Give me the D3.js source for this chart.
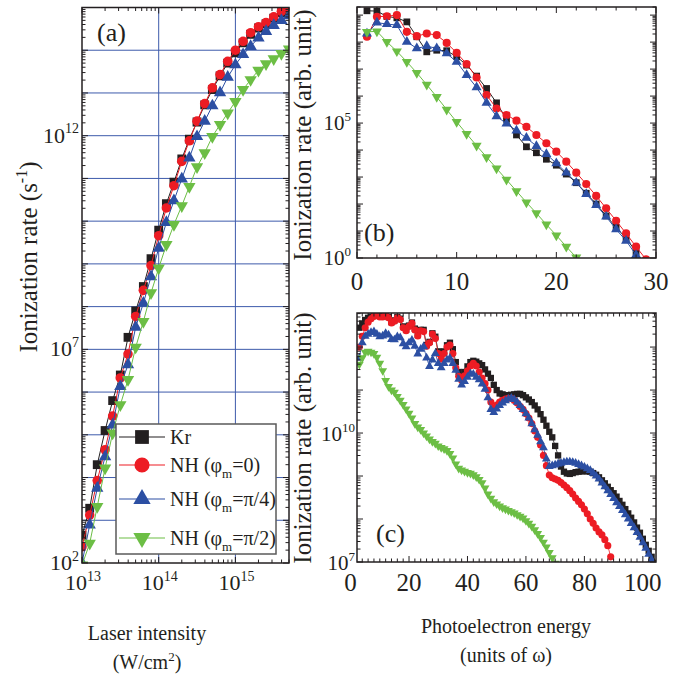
<!DOCTYPE html>
<html>
<head>
<meta charset="utf-8">
<script src="https://cdn.jsdelivr.net/npm/d3@7"></script>
<style>
  html, body { margin: 0; padding: 0; background: #fff; }
  svg { display: block; }
  svg text { font-family: "Liberation Serif", "Times New Roman", serif; }
</style>
</head>
<body>
<svg id="fig" width="682" height="681" font-family="Liberation Serif, Times New Roman, serif"></svg>
<script>
// ---------- (a) ionization rate vs laser intensity ----------
const intensity = [1e13, 1.26e13, 1.58e13, 2e13, 2.51e13, 3.16e13, 3.98e13, 5.01e13, 6.31e13, 7.94e13,
  1e14, 1.26e14, 1.58e14, 2e14, 2.51e14, 3.16e14, 3.98e14, 5.01e14, 6.31e14, 7.94e14,
  1e15, 1.26e15, 1.58e15, 2e15, 2.51e15, 3.16e15, 3.98e15, 5.01e15];
const rateKr = [4.47e2, 1.91e3, 2.0e4, 1.26e5, 6.31e5, 2.51e6, 1.91e7, 7.94e7, 2.95e8, 1.32e9,
  6.17e9, 2.57e10, 8.13e10, 2.88e11, 8.32e11, 2.09e12, 5.25e12, 1.2e13, 2.51e13, 5.01e13,
  8.7e13, 1.48e14, 2.34e14, 3.31e14, 4.17e14, 5.62e14, 7.59e14, 9.55e14];
const rateNH0 = [2.4e2, 1.32e3, 8.51e3, 4.47e4, 2.75e5, 2.14e6, 7.76e6, 5.89e7, 2.4e8, 9.12e8,
  4.57e9, 2.04e10, 6.76e10, 2.51e11, 7.59e11, 2.19e12, 5.62e12, 1.32e13, 2.69e13, 5.5e13,
  1.0e14, 1.62e14, 2.57e14, 3.55e14, 4.47e14, 6.03e14, 8.13e14, 1.0e15];
const rateNHq = [1.0e2, 7.76e2, 5.62e3, 3.09e4, 1.7e5, 1.35e6, 4.37e6, 3.31e7, 1.2e8, 5.01e8,
  2.34e9, 9.33e9, 3.02e10, 9.77e10, 3.02e11, 9.55e11, 2.19e12, 5.01e12, 1.02e13, 2.34e13,
  4.57e13, 7.94e13, 1.23e14, 1.95e14, 2.75e14, 3.8e14, 5.01e14, 6.46e14];
const rateNHh = [8.9e1, 2.88e2, 2.09e3, 1.66e4, 1.1e5, 5.01e5, 1.95e6, 1.12e7, 4.47e7, 2.09e8,
  7.94e8, 2.82e9, 8.32e9, 2.29e10, 6.46e10, 1.86e11, 3.98e11, 9.55e11, 1.82e12, 3.39e12,
  6.31e12, 1.2e13, 2.04e13, 3.39e13, 4.79e13, 6.31e13, 8.32e13, 1.07e14];

// ---------- (b) photoelectron spectrum, lower intensity ----------
const energyB = [1, 2, 3, 4, 5, 6, 7, 8, 9, 10, 11, 12, 13, 14, 15, 16, 17, 18, 19, 20,
  21, 22, 23, 24, 25, 26, 27, 28, 29];
const specKrB = [1.45e9, 1.41e9, 8.91e8, 7.94e8, 5.62e8, 1.58e8, 4.37e7, 5.01e7, 4.79e7, 2.88e7,
  1.41e7, 5.5e6, 1.91e6, 5.62e5, 1.38e5, 3.63e4, 1.32e4, 7.94e3, 4.57e3, 2.75e3,
  1.29e3, 6.17e2, 2.51e2, 1.0e2, 3.63e1, 1.38e1, 5.37, 1.7];
const specNH0B = [1.58e8, 8.71e8, 9.12e8, 1.0e9, 2.4e8, 1.66e8, 2.09e8, 1.82e8, 9.33e7, 3.98e7,
  1.55e7, 4.9e6, 1.1e6, 3.47e5, 2.0e5, 1.23e5, 7.24e4, 3.63e4, 1.78e4, 8.71e3,
  3.72e3, 1.45e3, 5.5e2, 2.0e2, 6.92e1, 2.4e1, 8.13, 2.63, 0.89];
const specNHqB = [2.09e8, 5.25e8, 4.68e8, 4.27e8, 1.02e8, 5.89e7, 7.08e7, 5.89e7, 3.8e7, 1.86e7,
  6.03e6, 2.09e6, 5.62e5, 1.78e5, 9.55e4, 5.25e4, 2.82e4, 1.41e4, 7.08e3, 3.24e3,
  1.45e3, 6.17e2, 2.34e2, 9.12e1, 3.39e1, 1.15e1, 4.37, 1.29];
const specNHhB = [2.4e8, 2.51e8, 1.02e8, 4.57e7, 1.86e7, 7.24e6, 2.63e6, 9.33e5, 3.16e5, 1.1e5,
  3.98e4, 1.45e4, 5.5e3, 2.09e3, 7.94e2, 3.02e2, 1.15e2, 4.57e1, 1.74e1, 6.92,
  2.63, 1.05];

// ---------- (c) photoelectron spectrum, higher intensity ----------
const energyC = [3, 4, 5, 6, 7, 8, 9, 10, 11, 12, 13, 14, 15, 16, 17, 18, 19, 20, 21, 22,
  23, 24, 25, 26, 27, 28, 29, 30, 31, 32, 33, 34, 35, 36, 37, 38, 39, 40, 41, 42,
  43, 44, 45, 46, 47, 48, 49, 50, 51, 52, 53, 54, 55, 56, 57, 58, 59, 60, 61, 62,
  63, 64, 65, 66, 67, 68, 69, 70, 71, 72, 73, 74, 75, 76, 77, 78, 79, 80, 81, 82,
  83, 84, 85, 86, 87, 88, 89, 90, 91, 92, 93, 94, 95, 96, 97, 98, 99, 100, 101, 102,
  103, 104];
const specKrC = [2.82e12, 3.55e12, 4.27e12, 4.79e12, 5.13e12, 5.5e12, 5.89e12, 5.37e12, 5.37e12, 6.03e12,
  5.01e12, 3.8e12, 4.17e12, 5.01e12, 4.57e12, 3.02e12, 2.51e12, 3.16e12, 3.72e12, 2.69e12,
  1.91e12, 2.51e12, 2.51e12, 1.12e12, 1.32e12, 2.09e12, 1.74e12, 7.94e11, 6.03e11, 7.94e11,
  1.1e12, 1.26e12, 8.91e11, 4.47e11, 2.63e11, 2.0e11, 2.63e11, 3.55e11, 4.47e11, 4.79e11,
  4.57e11, 4.17e11, 3.8e11, 3.02e11, 2.4e11, 1.91e11, 1.32e11, 1.0e11, 8.32e10, 7.94e10,
  7.59e10, 7.59e10, 7.76e10, 7.94e10, 8.13e10, 8.13e10, 7.59e10, 6.76e10, 6.03e10, 5.25e10,
  4.37e10, 3.55e10, 2.75e10, 2.04e10, 1.48e10, 1.07e10, 7.94e9, 5.01e9, 3.02e9, 1.66e9,
  1.26e9, 1.15e9, 1.12e9, 1.17e9, 1.23e9, 1.26e9, 1.29e9, 1.29e9, 1.29e9, 1.26e9,
  1.17e9, 1.07e9, 9.33e8, 7.94e8, 6.76e8, 5.62e8, 4.68e8, 3.98e8, 3.31e8, 2.63e8,
  2.14e8, 1.7e8, 1.35e8, 1.07e8, 8.32e7, 6.31e7, 4.79e7, 3.47e7, 2.51e7, 1.82e7,
  1.32e7, 9.55e6];
const specNH0C = [1.0e12, 1.78e12, 2.82e12, 3.8e12, 4.57e12, 5.13e12, 5.5e12, 5.01e12, 5.01e12, 5.89e12,
  4.79e12, 3.63e12, 3.98e12, 4.79e12, 4.37e12, 2.82e12, 2.4e12, 3.02e12, 3.55e12, 2.51e12,
  1.82e12, 2.4e12, 2.29e12, 1.05e12, 1.26e12, 2.0e12, 1.58e12, 7.08e11, 5.25e11, 7.08e11,
  1.0e12, 1.12e12, 7.08e11, 3.31e11, 2.09e11, 1.7e11, 2.14e11, 2.82e11, 3.63e11, 4.17e11,
  3.63e11, 2.63e11, 1.91e11, 1.41e11, 1.0e11, 5.25e10, 3.8e10, 4.47e10, 5.25e10, 5.75e10,
  6.17e10, 6.46e10, 6.46e10, 5.75e10, 5.01e10, 4.17e10, 3.55e10, 2.82e10, 2.24e10, 1.66e10,
  1.12e10, 7.94e9, 5.25e9, 3.02e9, 1.74e9, 1.05e9, 9.12e8, 8.51e8, 7.94e8, 7.08e8,
  6.17e8, 5.37e8, 4.57e8, 3.8e8, 3.09e8, 2.57e8, 2.14e8, 1.7e8, 1.32e8, 1.0e8,
  7.94e7, 6.17e7, 5.01e7, 4.27e7, 3.31e7, 2.4e7, 1.32e7];
const specNHqC = [5.62e11, 1.26e12, 1.78e12, 2.0e12, 2.19e12, 2.29e12, 2.0e12, 1.74e12, 1.82e12, 2.09e12,
  1.91e12, 1.51e12, 1.48e12, 1.74e12, 1.66e12, 1.2e12, 1.02e12, 1.26e12, 1.45e12, 1.05e12,
  6.92e11, 8.91e11, 1.02e12, 5.62e11, 3.55e11, 5.01e11, 7.08e11, 4.17e11, 3.31e11, 4.17e11,
  5.01e11, 5.5e11, 4.17e11, 2.88e11, 1.78e11, 1.32e11, 1.58e11, 2.0e11, 2.4e11, 2.34e11,
  2.0e11, 1.74e11, 1.38e11, 1.05e11, 6.61e10, 3.55e10, 3.02e10, 3.63e10, 4.37e10, 5.01e10,
  5.62e10, 6.17e10, 6.46e10, 6.03e10, 5.25e10, 4.37e10, 3.55e10, 2.82e10, 2.24e10, 1.66e10,
  1.2e10, 8.91e9, 6.31e9, 4.57e9, 2.51e9, 1.66e9, 1.74e9, 1.82e9, 1.91e9, 2.0e9,
  2.09e9, 2.14e9, 2.14e9, 2.09e9, 2.0e9, 1.86e9, 1.74e9, 1.62e9, 1.48e9, 1.35e9,
  1.17e9, 1.0e9, 8.51e8, 6.92e8, 5.62e8, 4.57e8, 3.72e8, 3.02e8, 2.4e8, 1.95e8,
  1.58e8, 1.26e8, 1.0e8, 7.94e7, 6.31e7, 4.9e7, 3.8e7, 2.82e7, 2.09e7, 1.51e7,
  1.12e7];
const specNHhC = [3.98e11, 5.62e11, 7.59e11, 7.94e11, 7.59e11, 7.08e11, 5.75e11, 4.17e11, 2.82e11, 1.66e11,
  1.2e11, 1.0e11, 8.91e10, 7.08e10, 5.75e10, 4.57e10, 3.63e10, 2.88e10, 2.24e10, 1.66e10,
  1.38e10, 1.2e10, 1.0e10, 8.51e9, 7.24e9, 6.31e9, 5.75e9, 5.01e9, 4.57e9, 4.27e9,
  3.89e9, 3.31e9, 2.63e9, 1.91e9, 1.51e9, 1.38e9, 1.29e9, 1.2e9, 1.15e9, 1.07e9,
  9.55e8, 8.32e8, 6.92e8, 5.25e8, 3.8e8, 3.02e8, 2.51e8, 2.24e8, 2.0e8, 1.82e8,
  1.7e8, 1.58e8, 1.48e8, 1.38e8, 1.26e8, 1.15e8, 1.05e8, 9.12e7, 7.94e7, 6.76e7,
  5.62e7, 4.57e7, 3.72e7, 2.88e7, 2.24e7, 1.66e7, 1.26e7, 9.33e6];

// tick values and legend texts
const ticksA_x = [1e13, 1e14, 1e15];
const ticksA_y = [1e2, 1e7, 1e12];
const ticksB_x = [0, 10, 20, 30];
const ticksB_y = [1, 1e5];
const ticksC_x = [0, 20, 40, 60, 80, 100];
const ticksC_y = [1e7, 1e10];
const legendLabels = [
  { main: "Kr" },
  { main: "NH (φ", sub: "m", tail: "=0)" },
  { main: "NH (φ", sub: "m", tail: "=π/4)" },
  { main: "NH (φ", sub: "m", tail: "=π/2)" }
];

const colors = ["#231f20", "#ed1c24", "#2c4fa3", "#6cbe45"];
const shapes = ["square", "circle", "up", "down"];
const FONT = "Liberation Serif, Times New Roman, serif";

const svg = d3.select("#fig");
const defs = svg.append("defs");

function txt(g, x, y, fs) {
  return g.append("text").attr("x", x).attr("y", y).attr("font-size", fs)
    .attr("font-family", FONT).attr("fill", "#231f20");
}

function symbolPath(shape, size) {
  const type = shape === "square" ? d3.symbolSquare
    : shape === "circle" ? d3.symbolCircle : d3.symbolTriangle;
  return d3.symbol().type(type).size(size)();
}

function expLabel(g, x, y, exp, anchor, fs, sfs) {
  const t = txt(g, x, y, fs).attr("text-anchor", anchor);
  t.append("tspan").text("10");
  t.append("tspan").attr("font-size", sfs).attr("dy", -fs * 0.42).text(exp);
  return t;
}

function logMinor(lo, hi) {
  const out = [];
  const e0 = Math.floor(Math.log10(lo)), e1 = Math.ceil(Math.log10(hi));
  for (let e = e0; e <= e1; e++) {
    for (let m = 1; m <= 9; m++) {
      const v = m * Math.pow(10, e);
      if (v >= lo * 0.9999 && v <= hi * 1.0001) out.push({ v, major: m === 1 });
    }
  }
  return out;
}

function frameTicks(g, x, y, xt, yt) {
  const [x0, x1] = x.range();
  const [y0, y1] = y.range(); // y0 bottom, y1 top
  const tk = g.append("g").attr("stroke", "#231f20").attr("stroke-width", 1);
  xt.forEach(t => {
    const px = x(t.v), L = t.major ? 6 : 3.5;
    tk.append("line").attr("x1", px).attr("x2", px).attr("y1", y0).attr("y2", y0 - L);
    tk.append("line").attr("x1", px).attr("x2", px).attr("y1", y1).attr("y2", y1 + L);
  });
  yt.forEach(t => {
    const py = y(t.v), L = t.major ? 6 : 3.5;
    tk.append("line").attr("y1", py).attr("y2", py).attr("x1", x0).attr("x2", x0 + L);
    tk.append("line").attr("y1", py).attr("y2", py).attr("x1", x1).attr("x2", x1 - L);
  });
  g.append("rect").attr("x", x0).attr("y", y1).attr("width", x1 - x0).attr("height", y0 - y1)
    .attr("fill", "none").attr("stroke", "#231f20").attr("stroke-width", 1.5);
}

function drawSeries(g, clipId, x, y, xs, ys, i, msize, lw) {
  const pts = ys.map((v, k) => [xs[k], v]);
  const s = g.append("g").attr("clip-path", `url(#${clipId})`);
  s.append("path").datum(pts)
    .attr("d", d3.line().x(d => x(d[0])).y(d => y(d[1])))
    .attr("fill", "none").attr("stroke", colors[i]).attr("stroke-width", lw);
  const p = symbolPath(shapes[i], msize[i]);
  s.selectAll("path.m").data(pts).join("path").attr("class", "m")
    .attr("d", p).attr("fill", colors[i])
    .attr("transform", d => `translate(${x(d[0])},${y(d[1])})` + (shapes[i] === "down" ? " rotate(180)" : ""));
}

function addClip(id, x, y) {
  const [x0, x1] = x.range(), [y0, y1] = y.range();
  defs.append("clipPath").attr("id", id).append("rect")
    .attr("x", x0).attr("y", y1).attr("width", x1 - x0).attr("height", y0 - y1);
}

// ================= panel (a) =================
const xA = d3.scaleLog().domain([1e13, 5e15]).range([82, 289]);
const yA = d3.scaleLog().domain([1e2, 1e15]).range([563, 7.5]);
const gA = svg.append("g");
addClip("clipA", xA, yA);

// decade grid
const gridA = gA.append("g").attr("stroke", "#3d5aab").attr("stroke-width", 1);
logMinor(1e13, 5e15).filter(t => t.major && t.v > 1e13).forEach(t => {
  gridA.append("line").attr("x1", xA(t.v)).attr("x2", xA(t.v)).attr("y1", yA.range()[0]).attr("y2", yA.range()[1]);
});
logMinor(1e2, 1e15).filter(t => t.major && t.v > 1e2 && t.v < 1e15).forEach(t => {
  gridA.append("line").attr("y1", yA(t.v)).attr("y2", yA(t.v)).attr("x1", xA.range()[0]).attr("x2", xA.range()[1]);
});

const sizeA = [78, 72, 66, 66];
[rateKr, rateNH0, rateNHq, rateNHh].forEach((ys, i) => drawSeries(gA, "clipA", xA, yA, intensity, ys, i, sizeA, 1));
frameTicks(gA, xA, yA, logMinor(1e13, 5e15), logMinor(1e2, 1e15));

ticksA_y.forEach(v => expLabel(gA, 79, yA(v) + 7, String(Math.round(Math.log10(v))), "end", 22, 14));
ticksA_x.forEach(v => expLabel(gA, xA(v) + 1, 590, String(Math.round(Math.log10(v))), "middle", 22, 14));

txt(gA, 97, 41, 26).text("(a)");

// legend
const lg = gA.append("g");
lg.append("rect").attr("x", 116).attr("y", 424).attr("width", 160).attr("height", 130)
  .attr("fill", "#fff").attr("stroke", "#5a5a5a").attr("stroke-width", 1.5);
const rowY = [437, 465, 499, 538];
const legSize = [190, 180, 130, 130];
legendLabels.forEach((lab, i) => {
  const cy = rowY[i];
  lg.append("line").attr("x1", 119).attr("x2", 165).attr("y1", cy).attr("y2", cy)
    .attr("stroke", colors[i]).attr("stroke-width", 1.2);
  lg.append("path").attr("d", symbolPath(shapes[i], legSize[i])).attr("fill", colors[i])
    .attr("transform", `translate(142,${cy})` + (shapes[i] === "down" ? " rotate(180)" : ""));
  const t = txt(lg, 170, cy + 7, 20);
  t.append("tspan").text(lab.main);
  if (lab.sub) {
    t.append("tspan").attr("font-size", 13).attr("dy", 6).text(lab.sub);
    t.append("tspan").attr("dy", -6).text(lab.tail);
  }
});

// axis titles (a)
const tA = txt(gA, 0, 0, 25).attr("transform", "translate(37,257) rotate(-90)").attr("text-anchor", "middle");
tA.append("tspan").text("Ionization rate (s");
tA.append("tspan").attr("font-size", 16).attr("dy", -10).text("-1");
tA.append("tspan").attr("dy", 10).text(")");

txt(gA, 147, 640, 20).attr("text-anchor", "middle").text("Laser intensity");
const tW = txt(gA, 147, 669, 20).attr("text-anchor", "middle");
tW.append("tspan").text("(W/cm");
tW.append("tspan").attr("font-size", 13).attr("dy", -8).text("2");
tW.append("tspan").attr("dy", 8).text(")");

// ================= panel (b) =================
const xB = d3.scaleLinear().domain([0, 30]).range([357, 656]);
const yB = d3.scaleLog().domain([1, 2e9]).range([258, 7]);
const gB = svg.append("g");
addClip("clipB", xB, yB);
const sizeB = [46, 52, 44, 44];
[specKrB, specNH0B, specNHqB, specNHhB].forEach((ys, i) =>
  drawSeries(gB, "clipB", xB, yB, energyB.slice(0, ys.length), ys, i, sizeB, 1));
const xtB = d3.range(0, 31, 2).map(v => ({ v, major: v % 10 === 0 }));
frameTicks(gB, xB, yB, xtB, logMinor(1, 2e9));
ticksB_x.forEach(v => txt(gB, xB(v), 290, 25).attr("text-anchor", "middle").text(v));
ticksB_y.forEach(v => expLabel(gB, 351, yB(v) + 7, String(Math.round(Math.log10(v))), "end", 21, 13));
txt(gB, 364, 241, 26).text("(b)");
txt(gB, 0, 0, 25).attr("transform", "translate(311,135) rotate(-90)").attr("text-anchor", "middle")
  .text("Ionization rate (arb. unit)");

// ================= panel (c) =================
const xC = d3.scaleLinear().domain([2.2, 104.5]).range([357, 656]);
const yC = d3.scaleLog().domain([1e7, 6.2e12]).range([562, 313]);
const gC = svg.append("g");
addClip("clipC", xC, yC);
const sizeC = [40, 40, 34, 34];
[specKrC, specNH0C, specNHqC, specNHhC].forEach((ys, i) =>
  drawSeries(gC, "clipC", xC, yC, energyC.slice(0, ys.length), ys, i, sizeC, 0.8));
const xtC = d3.range(4, 105, 2).map(v => ({ v, major: v % 20 === 0 }));
frameTicks(gC, xC, yC, xtC, logMinor(1e7, 6.2e12));
ticksC_x.forEach(v => txt(gC, xC(v), 591, 25).attr("text-anchor", "middle").text(v));
ticksC_y.forEach(v => expLabel(gC, 355, yC(v) + 8, String(Math.round(Math.log10(v))), "end", 21, 13));
txt(gC, 376, 542, 26).text("(c)");
txt(gC, 0, 0, 25).attr("transform", "translate(311,438) rotate(-90)").attr("text-anchor", "middle")
  .text("Ionization rate (arb. unit)");

txt(gC, 506, 633, 20).attr("text-anchor", "middle").text("Photoelectron energy");
txt(gC, 506, 662, 20).attr("text-anchor", "middle").text("(units of ω)");
</script>
</body>
</html>
